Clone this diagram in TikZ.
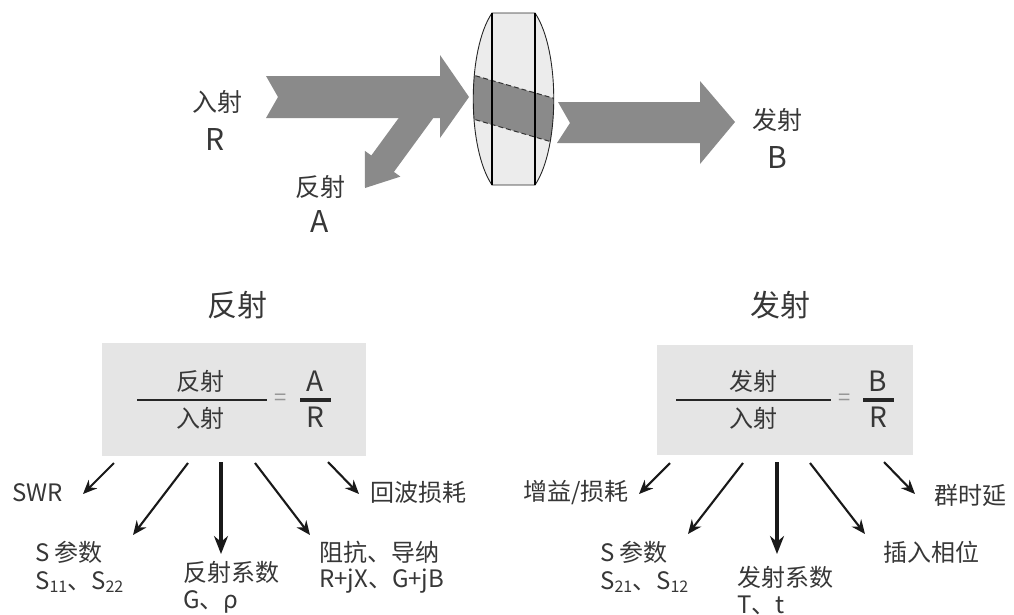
\documentclass[tikz,border=0pt]{standalone}
\usepackage{fontspec}
\setmainfont{Noto Sans CJK SC}
\usetikzlibrary{arrows.meta}
\definecolor{arrgray}{RGB}{138,138,138}
\definecolor{lensfill}{RGB}{236,236,236}
\definecolor{boxfill}{RGB}{229,229,229}
\definecolor{txt}{RGB}{55,55,55}
\definecolor{eqgray}{RGB}{150,150,150}
\newcommand{\mysub}[1]{\raisebox{-0.3ex}{\fontsize{16}{16}\selectfont #1}}
\begin{document}
\begin{tikzpicture}[x=1pt,y=-1pt,
  lab/.style={font=\fontsize{24}{26}\selectfont, text=txt, inner sep=0pt},
  toplab/.style={font=\fontsize{25}{27}\selectfont, text=txt, inner sep=0pt},
  toplat/.style={font=\fontsize{30}{32}\selectfont, text=txt, inner sep=0pt},
  fraclat/.style={font=\fontsize{28}{30}\selectfont, text=txt, inner sep=0pt},
  titlelab/.style={font=\fontsize{30}{32}\selectfont, text=txt, inner sep=0pt},
  eqlab/.style={font=\fontsize{22}{24}\selectfont, text=eqgray, inner sep=0pt},
  conn/.style={line width=2.1pt, draw=black!90, -{Stealth[length=14pt,width=12pt]}},
  connthick/.style={line width=3.4pt, draw=black!90, -{Stealth[length=18pt,width=14pt]}},
  fracline/.style={line width=2.6pt, draw=black!85},
  fracshort/.style={line width=4pt, draw=black!85},
  boxstyle/.style={fill=boxfill, draw=none, inner sep=0pt, anchor=north west},
  beam/.style={fill=arrgray, draw=none},
]
\useasboundingbox (0,0) rectangle (1014,614);
\fill[white] (0,0) rectangle (1014,614);

% ---------- top: beams ----------
\path[beam] (266,76) -- (440,76) -- (440,55) -- (469,97) -- (440,138) -- (440,118)
  -- (266,118) -- (278,97) -- cycle;
\path[beam] (410.6,101.7) -- (433.2,118.1) -- (393.9,171.9) -- (400.4,176.6)
  -- (365,188) -- (364.8,150.8) -- (371.3,155.5) -- cycle;
\path[beam] (558,102) -- (700,102) -- (700,81) -- (735,122) -- (700,164) -- (700,143)
  -- (557,143) -- (570,123) -- cycle;

% ---------- lens ----------
\def\lenspath{(492,13) -- (535,13) .. controls (560,50) and (560,148) .. (535,185)
  -- (492,185) .. controls (467,148) and (467,50) .. (492,13) -- cycle}
\path[fill=lensfill] \lenspath;
\begin{scope}
  \clip \lenspath;
  \fill[arrgray] (460,71.3) -- (565,101.5) -- (565,145.8) -- (460,115.2) -- cycle;
  \draw[line width=1pt, black!80, dash pattern=on 5pt off 3pt] (460,71.3) -- (565,101.5);
  \draw[line width=1pt, black!80, dash pattern=on 5pt off 3pt] (460,115.2) -- (565,145.8);
\end{scope}
\draw[line width=0.9pt, black!85] \lenspath;
\draw[line width=1.7pt] (492,13) -- (492,185);
\draw[line width=1.7pt] (535,13) -- (535,185);

% ---------- top labels ----------
\node[toplab] (inc) at (217,102) {入射};
\node[toplat] (incR) at (215,139) {R};
\node[toplab] (refl) at (320,187) {反射};
\node[toplat] (reflA) at (320,221) {A};
\node[toplab] (trans) at (777,120) {发射};
\node[toplat] (transB) at (777,157) {B};

% ---------- titles ----------
\node[titlelab] (titleL) at (237,305) {反射};
\node[titlelab] (titleR) at (780,305) {发射};

% ---------- left box ----------
\node[boxstyle, minimum width=264pt, minimum height=113pt] (boxL) at (102,343) {};
\node[lab] (numL) at (200,381) {反射};
\node[lab] (denL) at (200,418) {入射};
\coordinate (fl1) at (137,400); \coordinate (fl2) at (267,400);
\draw[fracline] (fl1) -- (fl2);
\node[eqlab] (eqL) at (281,400) {=};
\node[fraclat] (numA) at (315,381) {A};
\node[fraclat] (denRL) at (315,417) {R};
\coordinate (fs1) at (300,400); \coordinate (fs2) at (331,400);
\draw[fracshort] (fs1) -- (fs2);

% ---------- right box ----------
\node[boxstyle, minimum width=256pt, minimum height=110pt] (boxR) at (657,345) {};
\node[lab] (numR) at (753,381) {发射};
\node[lab] (denR) at (753,418) {入射};
\coordinate (fr1) at (676,400); \coordinate (fr2) at (831,400);
\draw[fracline] (fr1) -- (fr2);
\node[eqlab] (eqR) at (845,400) {=};
\node[fraclat] (numB) at (878,381) {B};
\node[fraclat] (denRR) at (878,417) {R};
\coordinate (frs1) at (863,400); \coordinate (frs2) at (894,400);
\draw[fracshort] (frs1) -- (frs2);

% ---------- left labels ----------
\node[lab, anchor=west] (swr) at (12,493) {SWR};
\node[lab, anchor=west] (rl) at (370,492) {回波损耗};
\node[lab, anchor=west] (spL) at (35,552) {S 参数};
\node[lab, anchor=west] (spL2) at (35,582) {S\mysub{11}、S\mysub{22}};
\node[lab, anchor=west] (rc) at (183,572) {反射系数};
\node[lab, anchor=west] (rc2) at (183,602) {G、ρ};
\node[lab, anchor=west] (imp) at (319,552) {阻抗、导纳};
\node[lab, anchor=west] (imp2) at (319,581) {R+jX、G+jB};

% ---------- right labels ----------
\node[lab, anchor=west] (gain) at (523,493) {增益/损耗};
\node[lab, anchor=west] (spR) at (600,552) {S 参数};
\node[lab, anchor=west] (spR2) at (600,582) {S\mysub{21}、S\mysub{12}};
\node[lab, anchor=west] (tc) at (737,577) {发射系数};
\node[lab, anchor=west] (tc2) at (737,605) {T、t};
\node[lab, anchor=west] (ip) at (883,552) {插入相位};
\node[lab, anchor=west] (gd) at (934,495) {群时延};

% ---------- left connectors ----------
\coordinate (a1s) at (114,463); \coordinate (a1e) at (83,494);
\coordinate (a2s) at (188,463); \coordinate (a2e) at (133,535);
\coordinate (a3s) at (221,462); \coordinate (a3e) at (221,554);
\coordinate (a4s) at (255,463); \coordinate (a4e) at (310,535);
\coordinate (a5s) at (328,462); \coordinate (a5e) at (359,494);
\draw[conn] (a1s) -- (a1e);
\draw[conn] (a2s) -- (a2e);
\draw[connthick] (a3s) -- (a3e);
\draw[conn] (a4s) -- (a4e);
\draw[conn] (a5s) -- (a5e);

% ---------- right connectors ----------
\coordinate (b1s) at (670,463); \coordinate (b1e) at (639,494);
\coordinate (b2s) at (743,463); \coordinate (b2e) at (688,534);
\coordinate (b3s) at (777,462); \coordinate (b3e) at (777,554);
\coordinate (b4s) at (810,463); \coordinate (b4e) at (865,534);
\coordinate (b5s) at (884,462); \coordinate (b5e) at (915,494);
\draw[conn] (b1s) -- (b1e);
\draw[conn] (b2s) -- (b2e);
\draw[connthick] (b3s) -- (b3e);
\draw[conn] (b4s) -- (b4e);
\draw[conn] (b5s) -- (b5e);
\end{tikzpicture}
\end{document}
